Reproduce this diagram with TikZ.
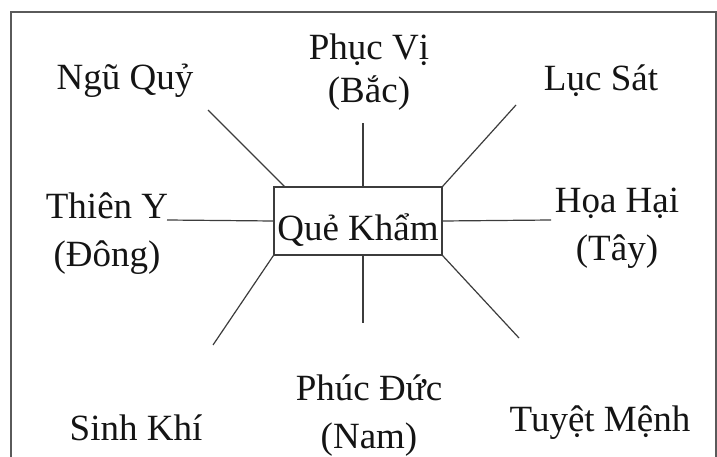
\documentclass[tikz,border=0pt]{standalone}
\usepackage{fontspec}
\setmainfont{Liberation Serif}
\usetikzlibrary{positioning}
\definecolor{LineColor}{RGB}{60, 60, 60}
\definecolor{FrameColor}{RGB}{90, 90, 90}
\definecolor{TextColor}{RGB}{20, 20, 20}

\begin{document}
\begin{tikzpicture}[
    x=1pt, y=-1pt,
    label/.style={
        anchor=base,
        align=center,
        inner sep=0pt,
        text=TextColor,
        font=\fontsize{37}{48}\selectfont
    },
    center/.style={
        draw=LineColor,
        line width=1.3pt,
        minimum width=168pt,
        minimum height=68pt,
        text height=38pt,
        text depth=0pt,
        inner sep=0pt,
        text=TextColor,
        font=\fontsize{37}{48}\selectfont
    },
    spoke/.style={LineColor, line width=1.2pt},
    frame/.style={FrameColor, line width=1.6pt}
]

% Page size and outer frame
\useasboundingbox (0,0) rectangle (717,457);
\draw[frame] (11,457) |- (716,12) -- (716,457);

% Centre
\node[center] at (358,221) (quekham) {Quẻ Khẩm};

% Eight directions (base = last line)
\node[label] at (125,90) (nguquy) {Ngũ Quỷ};
\node[label] at (369,103) (phucvi) {Phục Vị\\[-5pt](Bắc)};
\node[label] at (601,91) (lucsat) {Lục Sát};
\node[label] at (107,266) (thieny) {Thiên Y\\(Đông)};
\node[label] at (617,260) (hoahai) {Họa Hại\\(Tây)};
\node[label] at (136,440) (sinhkhi) {Sinh Khí};
\node[label] at (369,448) (phucduc) {Phúc Đức\\(Nam)};
\node[label] at (600,431) (tuyetmenh) {Tuyệt Mệnh};

% Free ends of the spokes
\coordinate (nguquy_end) at (208,110);
\coordinate (phucvi_end) at (363,123);
\coordinate (lucsat_end) at (516,105);
\coordinate (thieny_end) at (167,220);
\coordinate (hoahai_end) at (551,220);
\coordinate (sinhkhi_end) at (213,345);
\coordinate (phucduc_end) at (363,323);
\coordinate (tuyetmenh_end) at (519,338);

% Spokes
\draw[spoke] ([xshift=11pt]quekham.north west) -- (nguquy_end);
\draw[spoke] ([xshift=5pt]quekham.north) -- (phucvi_end);
\draw[spoke] (quekham.north east) -- (lucsat_end);
\draw[spoke] (quekham.west) -- (thieny_end);
\draw[spoke] (quekham.east) -- (hoahai_end);
\draw[spoke] (quekham.south west) -- (sinhkhi_end);
\draw[spoke] ([xshift=5pt]quekham.south) -- (phucduc_end);
\draw[spoke] (quekham.south east) -- (tuyetmenh_end);

\end{tikzpicture}
\end{document}
